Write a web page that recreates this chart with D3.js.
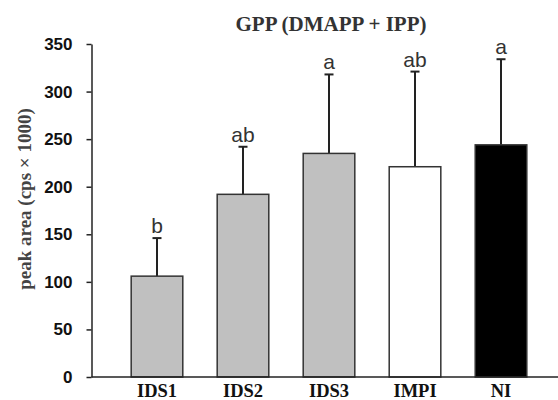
<!DOCTYPE html>
<html>
<head>
<meta charset="utf-8">
<script src="https://cdn.jsdelivr.net/npm/d3@7"></script>
<style>
  html, body { margin: 0; padding: 0; background: #fff; }
  svg { display: block; }
</style>
</head>
<body>
<svg id="chart" width="558" height="400"></svg>
<script>
// Peak area of GPP (DMAPP + IPP) per treatment, mean with upper SD
const categories = ["IDS1", "IDS2", "IDS3", "IMPI", "NI"];
const means = [106, 192, 235, 221, 244];
const upperError = [40, 50, 83, 100, 90];
const letters = ["b", "ab", "a", "ab", "a"];
const yTicks = [0, 50, 100, 150, 200, 250, 300, 350];
const barFills = ["#c0c0c0", "#c0c0c0", "#c0c0c0", "#ffffff", "#000000"];

const svg = d3.select("#chart");
const axisX = 91.5, baseY = 377, topY = 44;

const x = d3.scaleBand()
  .domain(categories)
  .range([axisX, 558])
  .paddingInner(0.4)
  .paddingOuter(0.412)
  .align(0.56);

const y = d3.scaleLinear().domain([0, 350]).range([baseY, topY]);

// title
svg.append("text")
  .attr("x", 331).attr("y", 31)
  .attr("text-anchor", "middle")
  .attr("font-family", "'Liberation Serif', 'Times New Roman', serif")
  .attr("font-weight", "bold")
  .attr("font-size", 21)
  .attr("fill", "#333")
  .text("GPP (DMAPP + IPP)");

// y axis title
svg.append("text")
  .attr("transform", "translate(31,199) rotate(-90)")
  .attr("text-anchor", "middle")
  .attr("font-family", "'Liberation Serif', 'Times New Roman', serif")
  .attr("font-weight", "bold")
  .attr("font-size", 19)
  .attr("fill", "#444")
  .text("peak area (cps × 1000)");

const data = categories.map((c, i) => ({ c, m: means[i], e: upperError[i], l: letters[i], f: barFills[i] }));

// error bars (upper whisker only)
const eb = svg.append("g").attr("stroke", "#222").attr("stroke-width", 2);
data.forEach(d => {
  const cx = x(d.c) + x.bandwidth() / 2;
  eb.append("line").attr("x1", cx).attr("x2", cx).attr("y1", y(d.m)).attr("y2", y(d.m + d.e));
  eb.append("line").attr("x1", cx - 4.5).attr("x2", cx + 4.5).attr("y1", y(d.m + d.e)).attr("y2", y(d.m + d.e));
});

// bars
svg.append("g").selectAll("rect").data(data).join("rect")
  .attr("x", d => x(d.c))
  .attr("y", d => y(d.m))
  .attr("width", x.bandwidth())
  .attr("height", d => y(0) - y(d.m))
  .attr("fill", d => d.f)
  .attr("stroke", "#333")
  .attr("stroke-width", 1.5);

// significance letters
svg.append("g").selectAll("text").data(data).join("text")
  .attr("x", d => x(d.c) + x.bandwidth() / 2)
  .attr("y", d => y(d.m + d.e) - 5)
  .attr("text-anchor", "middle")
  .attr("font-family", "'Liberation Sans', Arial, sans-serif")
  .attr("font-size", 21)
  .attr("fill", "#333")
  .text(d => d.l);

// y axis
const yAxis = svg.append("g")
  .attr("transform", `translate(${axisX},0)`)
  .call(d3.axisLeft(y).tickValues(yTicks).tickSize(5).tickPadding(14).tickSizeOuter(0));
yAxis.select(".domain").attr("stroke", "#222").attr("stroke-width", 1.5);
yAxis.selectAll(".tick line").attr("stroke", "#222").attr("stroke-width", 1.5);
yAxis.selectAll(".tick text")
  .attr("font-family", "'Liberation Sans', Arial, sans-serif")
  .attr("font-weight", "bold")
  .attr("font-size", 17)
  .attr("fill", "#111");

// x axis
const xAxis = svg.append("g")
  .attr("transform", `translate(0,${baseY})`)
  .call(d3.axisBottom(x).tickSize(0).tickPadding(7).tickSizeOuter(0));
xAxis.select(".domain").attr("stroke", "#222").attr("stroke-width", 1.5)
  .attr("d", `M${axisX},0H558`);
xAxis.selectAll(".tick text")
  .attr("font-family", "'Liberation Serif', 'Times New Roman', serif")
  .attr("font-weight", "bold")
  .attr("font-size", 18.5)
  .attr("fill", "#111");
</script>
</body>
</html>
